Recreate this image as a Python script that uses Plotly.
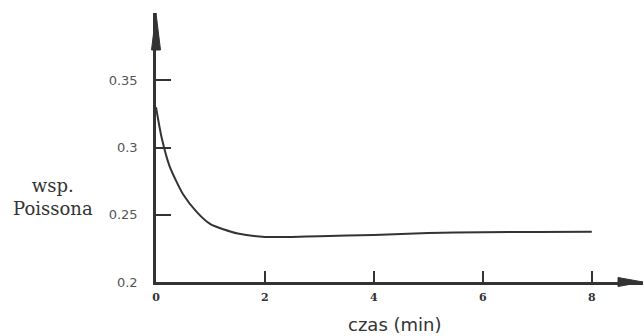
import plotly.graph_objects as go

time_min = [0, 0.1, 0.25, 0.5, 0.75, 1.0, 1.25, 1.5, 2, 2.5, 3, 4, 5, 6, 7, 8]
poisson = [0.33, 0.308, 0.286, 0.265, 0.252, 0.243, 0.239, 0.236, 0.2335, 0.2335,
           0.234, 0.235, 0.2365, 0.237, 0.2372, 0.2373]
x_ticks = [0, 2, 4, 6, 8]
x_tick_labels = ["0", "2", "4", "6", "8"]
y_ticks = [0.2, 0.25, 0.3, 0.35]
y_tick_labels = ["0.2", "0.25", "0.3", "0.35"]

ink = "#333333"
L, R, T, B = 156, 643, 13, 282
W, H = R - L, B - T

fig = go.Figure()
fig.add_trace(go.Scatter(x=time_min, y=poisson, mode="lines",
                         line=dict(color=ink, width=2, shape="spline", smoothing=0.6),
                         hoverinfo="skip", showlegend=False))

fig.update_layout(
    width=644, height=336,
    margin=dict(l=L, r=644 - R, t=T, b=336 - B, autoexpand=False),
    paper_bgcolor="white", plot_bgcolor="white",
    xaxis=dict(range=[0, 8.94], tickvals=x_ticks, ticktext=x_tick_labels, automargin=False,
               ticks="inside", ticklen=11, tickwidth=2, tickcolor=ink,
               showline=True, linecolor=ink, linewidth=2.5, showgrid=False, zeroline=False,
               tickfont=dict(family="DejaVu Serif", size=11, color=ink, weight="bold"),
               ticklabelstandoff=3),
    yaxis=dict(range=[0.2, 0.4], tickvals=y_ticks, ticktext=y_tick_labels, automargin=False,
               ticks="inside", ticklen=15, tickwidth=2, tickcolor=ink,
               showline=True, linecolor=ink, linewidth=2.5, showgrid=False, zeroline=False,
               tickfont=dict(family="DejaVu Sans", size=13, color="#555555"),
               ticklabelstandoff=13),
)

# axis arrowheads (paper coords)
def px(xp):
    return (xp - L) / W

def py(yp):
    return (B - yp) / H

fig.add_shape(type="path", xref="paper", yref="paper", fillcolor=ink, line=dict(color=ink, width=1),
              path=f"M {px(156)} {py(13)} L {px(151.5)} {py(50)} L {px(160.5)} {py(50)} Z")
fig.add_shape(type="path", xref="paper", yref="paper", fillcolor=ink, line=dict(color=ink, width=1),
              path=f"M {px(643)} {py(282)} L {px(618)} {py(277.5)} L {px(618)} {py(286.5)} Z")

# axis titles
fig.add_annotation(text="wsp.<br>Poissona", x=px(53), y=py(197), xref="paper", yref="paper",
                   xanchor="center", yanchor="middle", showarrow=False, align="center",
                   font=dict(family="DejaVu Serif", size=18, color=ink))
fig.add_annotation(text="czas (min)", x=px(394), y=py(324), xref="paper", yref="paper",
                   xanchor="center", yanchor="middle", showarrow=False,
                   font=dict(family="DejaVu Sans", size=18, color=ink))

fig.write_html("out.html", config={"displayModeBar": False},
               post_script="document.body.style.margin='0px';")
